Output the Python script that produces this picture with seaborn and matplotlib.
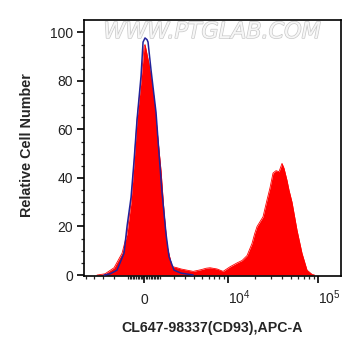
import numpy as np
import pandas as pd
import matplotlib
matplotlib.use("Agg")
import matplotlib.pyplot as plt
import matplotlib.patheffects as pe
import seaborn as sns

# ---- data (fluorescence value, relative count) ----
red_x = [-3623, -2806, -2024, -1420, -1077, -812, -620, -432, -184, 0, 61, 308, 620,
         812, 1077, 1281, 1495, 1868, 2270, 2620, 3200, 3864, 4855, 5600, 6243, 7535,
         8840, 10600, 12730, 14500, 16450, 18700, 20000, 21270, 24780, 27450, 29640,
         31970, 34510, 37280, 40230, 42330, 45690, 48060, 51920, 58930, 66900, 76070,
         86240, 92000]
red_y = [0, 0.5, 3, 9, 17, 30, 46, 64, 80, 94, 95, 87, 73,
         60, 43, 26, 12, 3.5, 3, 2.5, 2, 1.5, 2.2, 2.8, 3, 2.5,
         1.5, 3.4, 5, 6, 8, 13, 17, 20, 24, 31, 36,
         42, 43, 42.6, 46, 44, 39, 35, 30, 18.5, 9, 2,
         0.3, 0]

blue_x = [-2888, -2357, -1792, -1281, -1077, -812, -620, -432, -184, -61, 61, 184,
          246, 432, 748, 942, 1144, 1420, 1640, 2024, 2620, 3864]
blue_y = [0, 0.5, 2, 9, 20, 32, 47, 64, 82, 96, 97.7, 97,
          96, 84.5, 67, 50, 34, 17, 7.5, 2, 0.8, 0]

x_major = [0, 10000, 100000]
x_major_labels = ["0", r"$\mathregular{10^4}$", r"$\mathregular{10^5}$"]
y_major = [0, 20, 40, 60, 80, 100]

C = 2415.0
def fwd(x):
    return np.arcsinh(np.asarray(x, dtype=float) / C)
def inv(y):
    return C * np.sinh(np.asarray(y, dtype=float))

sns.set_style("ticks")
plt.rcParams["font.family"] = ["Liberation Sans", "DejaVu Sans"]
plt.rcParams["mathtext.fontset"] = "custom"
plt.rcParams["mathtext.rm"] = "Liberation Sans"

fig = plt.figure(figsize=(3.61, 3.56), dpi=100)
ax = fig.add_axes([84/361, 1-276/356, (340.5-84)/361, (276-20)/356])
ax.set_xscale("function", functions=(fwd, inv))

red = pd.DataFrame({"x": red_x, "y": red_y})
blue = pd.DataFrame({"x": blue_x, "y": blue_y})

ax.fill_between(red["x"], 0, red["y"], color="#ff0000", linewidth=0, zorder=2)
sns.lineplot(data=red, x="x", y="y", ax=ax, color="#ff0000", linewidth=0.6,
             sort=False, zorder=2)
sns.lineplot(data=blue, x="x", y="y", ax=ax, color="#22229a", linewidth=1.1,
             sort=False, zorder=3)

ax.set_xlim(-5290, 178000)
ax.set_ylim(-0.4, 105.1)

# ticks
ax.set_yticks(y_major)
ax.set_yticks(np.arange(0, 105, 5), minor=True)
minor_x = (list(range(-5000, -999, 1000)) + list(range(-900, 901, 100)) +
           list(range(1000, 10000, 1000)) + list(range(20000, 100000, 10000)))
ax.set_xticks(x_major, x_major_labels)
ax.set_xticks(minor_x, minor=True)

ax.tick_params(axis="both", which="major", direction="out", length=5, width=1.2,
               labelsize=10, colors="black")
ax.tick_params(axis="both", which="minor", direction="out", length=2.5, width=0.9)
ax.tick_params(axis="y", which="major", pad=3)
ax.tick_params(axis="x", which="major", pad=15)
for lbl in ax.get_xticklabels():
    lbl.set_va("baseline")
labels = ax.get_xticklabels()
labels[1].set_ha("left")
labels[2].set_ha("left")
for lbl in ax.get_yticklabels() + ax.get_xticklabels():
    lbl.set_color("#222222")

for s in ax.spines.values():
    s.set_visible(True)
    s.set_linewidth(1.2)
    s.set_color("black")

ax.set_xlabel("CL647-98337(CD93),APC-A", fontsize=10.2, fontweight="bold")
ax.set_ylabel("Relative Cell Number", fontsize=10.4, fontweight="bold")
ax.xaxis.set_label_coords(0.498, (276-328)/256)
ax.xaxis.label.set_va("center")
ax.yaxis.set_label_coords((27-84)/256.5, (276-145)/256)
ax.yaxis.label.set_va("center")

ax.text(0.5, (276-32)/256, "WWW.PTGLAB.COM", transform=ax.transAxes,
        ha="center", va="center", fontsize=16, fontstyle="oblique",
        family="DejaVu Sans", color="#f6f6f6", zorder=1,
        path_effects=[pe.withStroke(linewidth=1.0, foreground="#c8c8c8")])

fig.savefig("out.png", dpi=100)
